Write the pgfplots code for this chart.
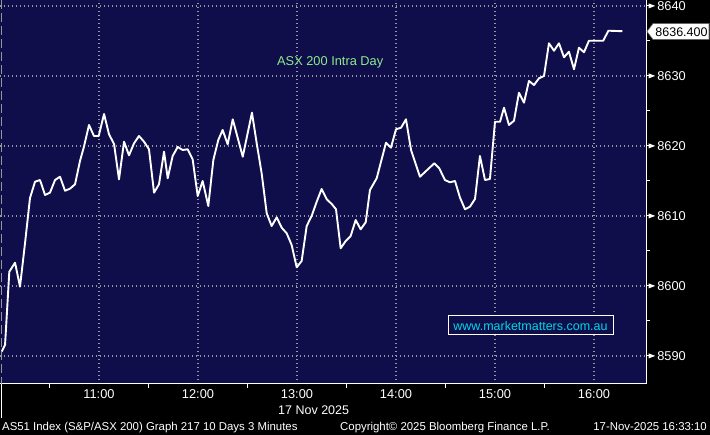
\documentclass[border=0pt]{standalone}
\usepackage{fontspec}
\setmainfont{Liberation Sans}
\usepackage{pgfplots}
\usepackage{pgfplotstable}
\pgfplotsset{compat=1.18}

\definecolor{bbnavy}{RGB}{15,14,74}
\definecolor{bbgrid}{RGB}{150,150,155}
\definecolor{bbgreen}{RGB}{140,235,140}
\definecolor{bbcyan}{RGB}{0,215,230}

% ASX 200, 17 Nov 2025, time in hours
\pgfplotstableread{
t v
10.017 8590.61
10.051 8591.57
10.094 8602.04
10.152 8603.33
10.202 8599.90
10.253 8606.14
10.303 8612.57
10.354 8614.90
10.404 8615.14
10.455 8613.00
10.505 8613.33
10.556 8615.14
10.606 8615.61
10.657 8613.61
10.707 8613.90
10.758 8614.53
10.808 8617.86
10.848 8619.90
10.899 8623.00
10.949 8621.43
10.997 8621.43
11.051 8624.57
11.101 8621.67
11.152 8620.29
11.202 8615.24
11.253 8620.61
11.303 8618.67
11.354 8620.39
11.404 8621.43
11.455 8620.61
11.505 8619.53
11.556 8613.33
11.606 8614.53
11.657 8619.19
11.694 8615.39
11.744 8618.57
11.795 8619.86
11.845 8619.43
11.896 8619.53
11.946 8618.10
11.997 8612.86
12.047 8615.00
12.104 8611.43
12.155 8618.00
12.205 8620.86
12.249 8622.29
12.300 8620.24
12.351 8623.81
12.452 8618.47
12.545 8624.76
12.593 8620.39
12.643 8616.10
12.694 8610.39
12.744 8608.57
12.795 8609.81
12.845 8608.33
12.896 8607.53
12.946 8605.86
12.997 8602.67
13.047 8603.57
13.098 8608.57
13.148 8610.00
13.199 8612.04
13.249 8613.86
13.300 8612.39
13.351 8611.71
13.394 8610.96
13.441 8605.39
13.492 8606.43
13.542 8607.14
13.593 8609.43
13.643 8608.10
13.694 8609.10
13.737 8613.71
13.805 8615.39
13.899 8620.47
13.949 8619.76
14.000 8622.39
14.051 8622.61
14.101 8623.81
14.152 8619.43
14.242 8615.61
14.387 8617.53
14.437 8616.81
14.495 8615.14
14.545 8614.81
14.596 8615.00
14.646 8612.64
14.697 8610.96
14.747 8611.33
14.798 8612.43
14.848 8618.57
14.899 8615.14
14.949 8615.29
15.000 8623.47
15.051 8623.47
15.091 8625.47
15.141 8623.00
15.192 8623.61
15.242 8627.61
15.293 8626.19
15.343 8629.29
15.394 8628.71
15.444 8629.67
15.495 8630.00
15.545 8634.67
15.596 8633.61
15.646 8634.67
15.697 8632.67
15.747 8633.47
15.798 8630.96
15.848 8634.04
15.899 8633.39
15.949 8635.04
16.000 8635.04
16.094 8635.04
16.145 8636.47
16.286 8636.40
}\asxdata

\newcommand{\tickarrow}{\tikz[baseline=-4.5pt]{\fill[white] (0,-0.5pt) rectangle (3pt,0.5pt);\fill[white] (2.5pt,2.5pt)--(9pt,0)--(2.5pt,-2.5pt)--cycle;}}

\begin{document}
\begin{tikzpicture}
\useasboundingbox (0pt,-435pt) rectangle (710pt,0pt);
\fill[black] (0pt,-435pt) rectangle (710pt,0pt);
\begin{axis}[
  at={(0pt,0pt)}, anchor=north west,
  scale only axis, width=646pt, height=384pt,
  xmin=10, xmax=16.5253, ymin=8586, ymax=8640.857,
  axis background/.style={fill=bbnavy},
  axis x line*=bottom, axis y line*=right,
  x axis line style={-}, y axis line style={-},
  axis line style={white, line width=1pt},
  xticklabel pos=left, yticklabel pos=right,
  xtick={11,12,13,14,15,16},
  xticklabels={11:00,12:00,13:00,14:00,15:00,16:00},
  minor xtick={10.5,11.5,12.5,13.5,14.5,15.5},
  ytick={8590,8600,8610,8620,8630,8640},
  minor ytick={8595,8605,8615,8625,8635},
  tick align=outside, major tick length=0pt, minor tick length=4pt,
  every tick/.style={white, line width=1pt},
  grid=major,
  major grid style={draw=bbgrid, line width=1.1pt, dash pattern=on 1.3pt off 2.7pt},
  tick label style={font=\fontsize{12.8}{14}\selectfont, text=white, inner sep=0pt},
  xticklabel style={anchor=north, yshift=-5pt},
  yticklabel style={anchor=west, xshift=0pt},
  yticklabel={\tickarrow\,\pgfmathprintnumber[fixed,1000 sep={},assume math mode=true]{\tick}},
]
\addplot[white, line width=1.9pt, line join=round] table[x=t, y=v] {\asxdata};
\end{axis}
% left session boundary
\draw[bbgrid, line width=1pt, dash pattern=on 9pt off 4pt] (1pt,0pt) -- (1pt,-384pt);
\draw[white, line width=1pt] (1pt,-384pt) -- (1pt,-418pt);
% annotations
\node[anchor=base west, inner sep=0pt, text=bbgreen, font=\fontsize{12.8}{14}\selectfont] at (277pt,-66pt) {ASX 200 Intra Day};
\draw[white, fill=bbnavy, line width=1pt] (448pt,-316pt) rectangle (613pt,-335pt);
\node[anchor=base, inner sep=0pt, text=bbcyan, font=\fontsize{12.5}{14}\selectfont] at (530.5pt,-331pt) {www.marketmatters.com.au};
\filldraw[fill=white, draw=black!60, line width=0.6pt] (647pt,-31.5pt) -- (653pt,-23.5pt) -- (709pt,-23.5pt) -- (709pt,-39.5pt) -- (653pt,-39.5pt) -- cycle;
\node[anchor=base, inner sep=0pt, text=black, font=\fontsize{12.5}{14}\selectfont] at (681.5pt,-36.5pt) {8636.400};
% footer
\node[anchor=base west, inner sep=0pt, text=white, font=\fontsize{12.5}{14}\selectfont] at (278pt,-415pt) {17 Nov 2025};
\node[anchor=base west, inner sep=0pt, text=white, font=\fontsize{11.4}{13}\selectfont] at (2pt,-431pt) {AS51 Index (S\&P/ASX 200) Graph 217 10 Days 3 Minutes};
\node[anchor=base west, inner sep=0pt, text=white, font=\fontsize{11.4}{13}\selectfont] at (340pt,-431pt) {Copyright© 2025 Bloomberg Finance L.P.};
\node[anchor=base east, inner sep=0pt, text=white, font=\fontsize{11.4}{13}\selectfont] at (707pt,-431pt) {17-Nov-2025 16:33:10};
\end{tikzpicture}
\end{document}
